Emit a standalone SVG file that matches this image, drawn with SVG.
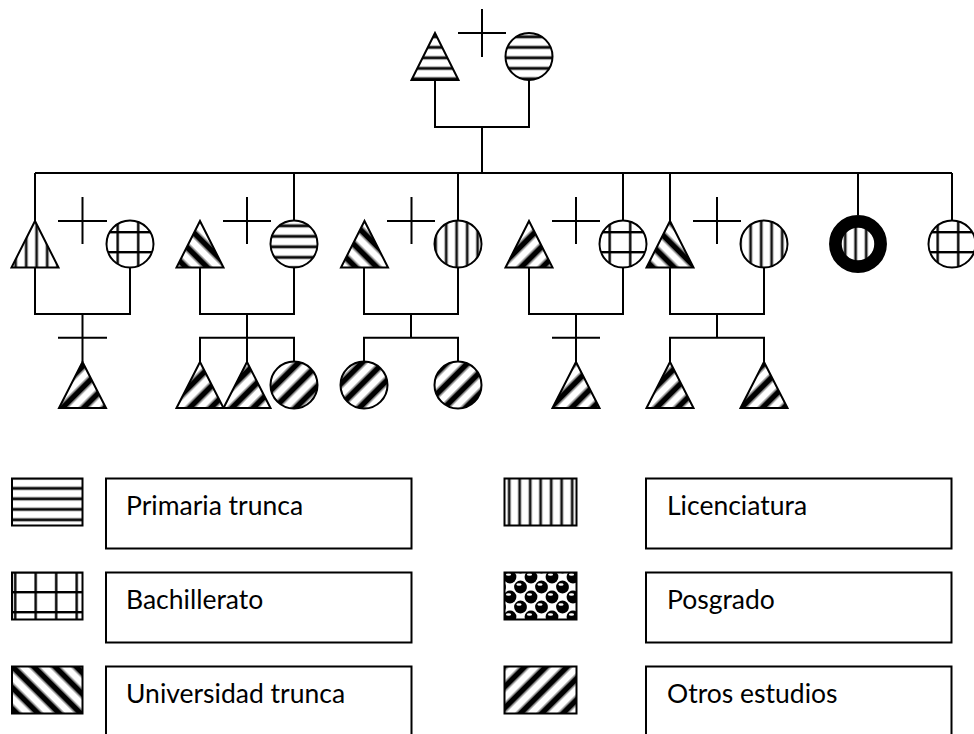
<svg xmlns="http://www.w3.org/2000/svg" width="974" height="734" viewBox="0 0 974 734">
<defs>
<style>
.o{stroke:#000;stroke-width:2;}
.ln{fill:none;stroke:#000;stroke-width:2;}
.bx{fill:#fff;stroke:#000;stroke-width:2;}
.t{font-family:Lato,"Liberation Sans",sans-serif;font-size:26.5px;fill:#000;}
</style>
<pattern id="pH" width="12" height="10.5" patternUnits="userSpaceOnUse"><rect width="12" height="10.5" fill="#fff"/><rect y="4" width="12" height="2.6" fill="#000"/><rect y="3.4" width="12" height="0.6" fill="#999"/><rect y="6.6" width="12" height="0.6" fill="#999"/></pattern>
<pattern id="pV" width="10.5" height="12" patternUnits="userSpaceOnUse"><rect width="10.5" height="12" fill="#fff"/><rect x="4" width="2.4" height="12" fill="#000"/><rect x="3.4" width="0.6" height="12" fill="#999"/><rect x="6.4" width="0.6" height="12" fill="#999"/></pattern>
<pattern id="pG" width="20.5" height="20" patternUnits="userSpaceOnUse" x="5" y="2"><rect width="20.5" height="20" fill="#fff"/><rect x="9" width="2.4" height="20" fill="#000"/><rect y="9" width="20.5" height="2.4" fill="#000"/></pattern>
<pattern id="pB" width="15" height="15" patternUnits="userSpaceOnUse" patternTransform="rotate(-45)"><rect width="15" height="15" fill="#fff"/><rect x="0" width="5" height="15" fill="#000"/><rect x="5" width="1.5" height="15" fill="#777"/><rect x="13.5" width="1.5" height="15" fill="#777"/></pattern>
<pattern id="pF" width="15" height="15" patternUnits="userSpaceOnUse" patternTransform="rotate(45)"><rect width="15" height="15" fill="#fff"/><rect x="0" width="5" height="15" fill="#000"/><rect x="5" width="1.5" height="15" fill="#777"/><rect x="13.5" width="1.5" height="15" fill="#777"/></pattern>
<pattern id="pP" width="21" height="20" patternUnits="userSpaceOnUse" x="505" y="572"><rect width="21" height="20" fill="#fff"/><circle cx="5" cy="5" r="6.4" fill="#000"/><circle cx="15.5" cy="15" r="6.4" fill="#000"/><circle cx="-5.5" cy="15" r="6.4" fill="#000"/><circle cx="26" cy="5" r="6.4" fill="#000"/><circle cx="5" cy="25" r="6.4" fill="#000"/><circle cx="26" cy="25" r="6.4" fill="#000"/><circle cx="15.5" cy="-5" r="6.4" fill="#000"/><ellipse cx="3.5" cy="2.5" rx="2.6" ry="1.3" fill="#fff"/><ellipse cx="14" cy="12.5" rx="2.6" ry="1.3" fill="#fff"/></pattern>
</defs>
<rect width="974" height="734" fill="#fff"/>

<g id="connectors" class="ln">
<polyline points="435,80 435,127 529,127 529,80"/>
<line x1="482" y1="127" x2="482" y2="173"/>
<line x1="35" y1="173" x2="952" y2="173"/>
<line x1="35" y1="173" x2="35" y2="221"/>
<line x1="294" y1="173" x2="294" y2="220.5"/>
<line x1="458" y1="173" x2="458" y2="220.5"/>
<line x1="623" y1="173" x2="623" y2="220.5"/>
<line x1="670" y1="173" x2="670" y2="221"/>
<line x1="858" y1="173" x2="858" y2="215"/>
<line x1="952" y1="173" x2="952" y2="220.5"/>
<polyline points="35,267.5 35,314 130,314 130,267.5"/>
<polyline points="200,267.5 200,314 294,314 294,267.5"/>
<polyline points="364,267.5 364,314 458,314 458,267.5"/>
<polyline points="529,267.5 529,314 623,314 623,267.5"/>
<polyline points="670,267.5 670,314 764,314 764,267.5"/>
<line x1="82.5" y1="314" x2="82.5" y2="362"/>
<line x1="247" y1="314" x2="247" y2="362"/>
<polyline points="200,362 200,337.7 294,337.7 294,361.5"/>
<line x1="411" y1="314" x2="411" y2="337.7"/>
<polyline points="364,361.5 364,337.7 458,337.7 458,361.5"/>
<line x1="576" y1="314" x2="576" y2="362"/>
<line x1="717" y1="314" x2="717" y2="337.7"/>
<polyline points="670,362 670,337.7 764,337.7 764,362"/>
</g>

<g id="marks" class="ln">
<path d="M482,9 V57 M458,33 H506"/>
<path d="M82.5,197 V244 M58,221 H107"/>
<path d="M247,197 V244 M223,221 H271"/>
<path d="M411.5,197 V244 M387,221 H435"/>
<path d="M576,197 V244 M552,221 H600"/>
<path d="M717,197 V244 M693,221 H741"/>
<path d="M58,337.7 H107"/>
<path d="M552,337.7 H600"/>
</g>

<g id="father"><polygon class="o" fill="url(#pH)" points="435,33 411.5,80 458.5,80"/></g>
<g id="mother"><circle class="o" fill="url(#pH)" cx="529" cy="56.5" r="23.5"/></g>

<g id="n1m"><polygon class="o" fill="url(#pV)" points="35,221 11.5,267.5 58.5,267.5"/></g>
<g id="n1f"><circle class="o" fill="url(#pG)" cx="130" cy="244" r="23.5"/></g>
<g id="n2m"><polygon class="o" fill="url(#pB)" points="200,221 176.5,267.5 223.5,267.5"/></g>
<g id="n2f"><circle class="o" fill="url(#pH)" cx="294" cy="244" r="23.5"/></g>
<g id="n3m"><polygon class="o" fill="url(#pB)" points="364.5,221 341,267.5 388,267.5"/></g>
<g id="n3f"><circle class="o" fill="url(#pV)" cx="458" cy="244" r="23.5"/></g>
<g id="n4m"><polygon class="o" fill="url(#pF)" points="529,221 505.5,267.5 552.5,267.5"/></g>
<g id="n4f"><circle class="o" fill="url(#pG)" cx="623" cy="244" r="23.5"/></g>
<g id="n5m"><polygon class="o" fill="url(#pB)" points="670,221 646.5,267.5 693.5,267.5"/></g>
<g id="n5f"><circle class="o" fill="url(#pV)" cx="764" cy="244" r="23.5"/></g>
<g id="ego"><circle fill="url(#pV)" stroke="#000" stroke-width="12.7" cx="858" cy="244" r="22.6"/></g>
<g id="n7f"><circle class="o" fill="url(#pG)" cx="952" cy="244" r="23.5"/></g>

<g id="c1"><polygon class="o" fill="url(#pF)" points="82.5,362 59,408 106,408"/></g>
<g id="c2a"><polygon class="o" fill="url(#pF)" points="200,362 176.5,408 223.5,408"/></g>
<g id="c2b"><polygon class="o" fill="url(#pF)" points="247,362 223.5,408 270.5,408"/></g>
<g id="c2c"><circle class="o" fill="url(#pF)" cx="294" cy="385" r="23.5"/></g>
<g id="c3a"><circle class="o" fill="url(#pF)" cx="364" cy="385" r="23.5"/></g>
<g id="c3b"><circle class="o" fill="url(#pF)" cx="458" cy="385" r="23.5"/></g>
<g id="c4"><polygon class="o" fill="url(#pF)" points="576,362 552.5,408 599.5,408"/></g>
<g id="c5a"><polygon class="o" fill="url(#pF)" points="670,362 646.5,408 693.5,408"/></g>
<g id="c5b"><polygon class="o" fill="url(#pF)" points="764,362 740.5,408 787.5,408"/></g>

<g id="legend-primaria"><rect class="o" fill="url(#pH)" x="12" y="478.5" width="70.5" height="47"/><rect class="bx" x="106" y="478.5" width="305.5" height="70"/><text class="t" x="126" y="515">Primaria trunca</text></g>
<g id="legend-bachillerato"><rect class="o" fill="url(#pG)" x="12" y="572.5" width="70.5" height="47"/><rect class="bx" x="106" y="572.5" width="305.5" height="70"/><text class="t" x="126" y="608.5">Bachillerato</text></g>
<g id="legend-universidad"><rect class="o" fill="url(#pB)" x="12" y="666.5" width="70.5" height="47"/><rect class="bx" x="106" y="666.5" width="305.5" height="70"/><text class="t" x="126" y="702.5">Universidad trunca</text></g>
<g id="legend-licenciatura"><rect class="o" fill="url(#pV)" x="504.5" y="478.5" width="72" height="47"/><rect class="bx" x="646" y="478.5" width="305.5" height="70"/><text class="t" x="667" y="515">Licenciatura</text></g>
<g id="legend-posgrado"><rect class="o" fill="url(#pP)" x="504.5" y="572.5" width="72" height="47"/><rect class="bx" x="646" y="572.5" width="305.5" height="70"/><text class="t" x="667" y="608.5">Posgrado</text></g>
<g id="legend-otros"><rect class="o" fill="url(#pF)" x="504.5" y="666.5" width="72" height="47"/><rect class="bx" x="646" y="666.5" width="305.5" height="70"/><text class="t" x="667" y="702.5">Otros estudios</text></g>
</svg>
